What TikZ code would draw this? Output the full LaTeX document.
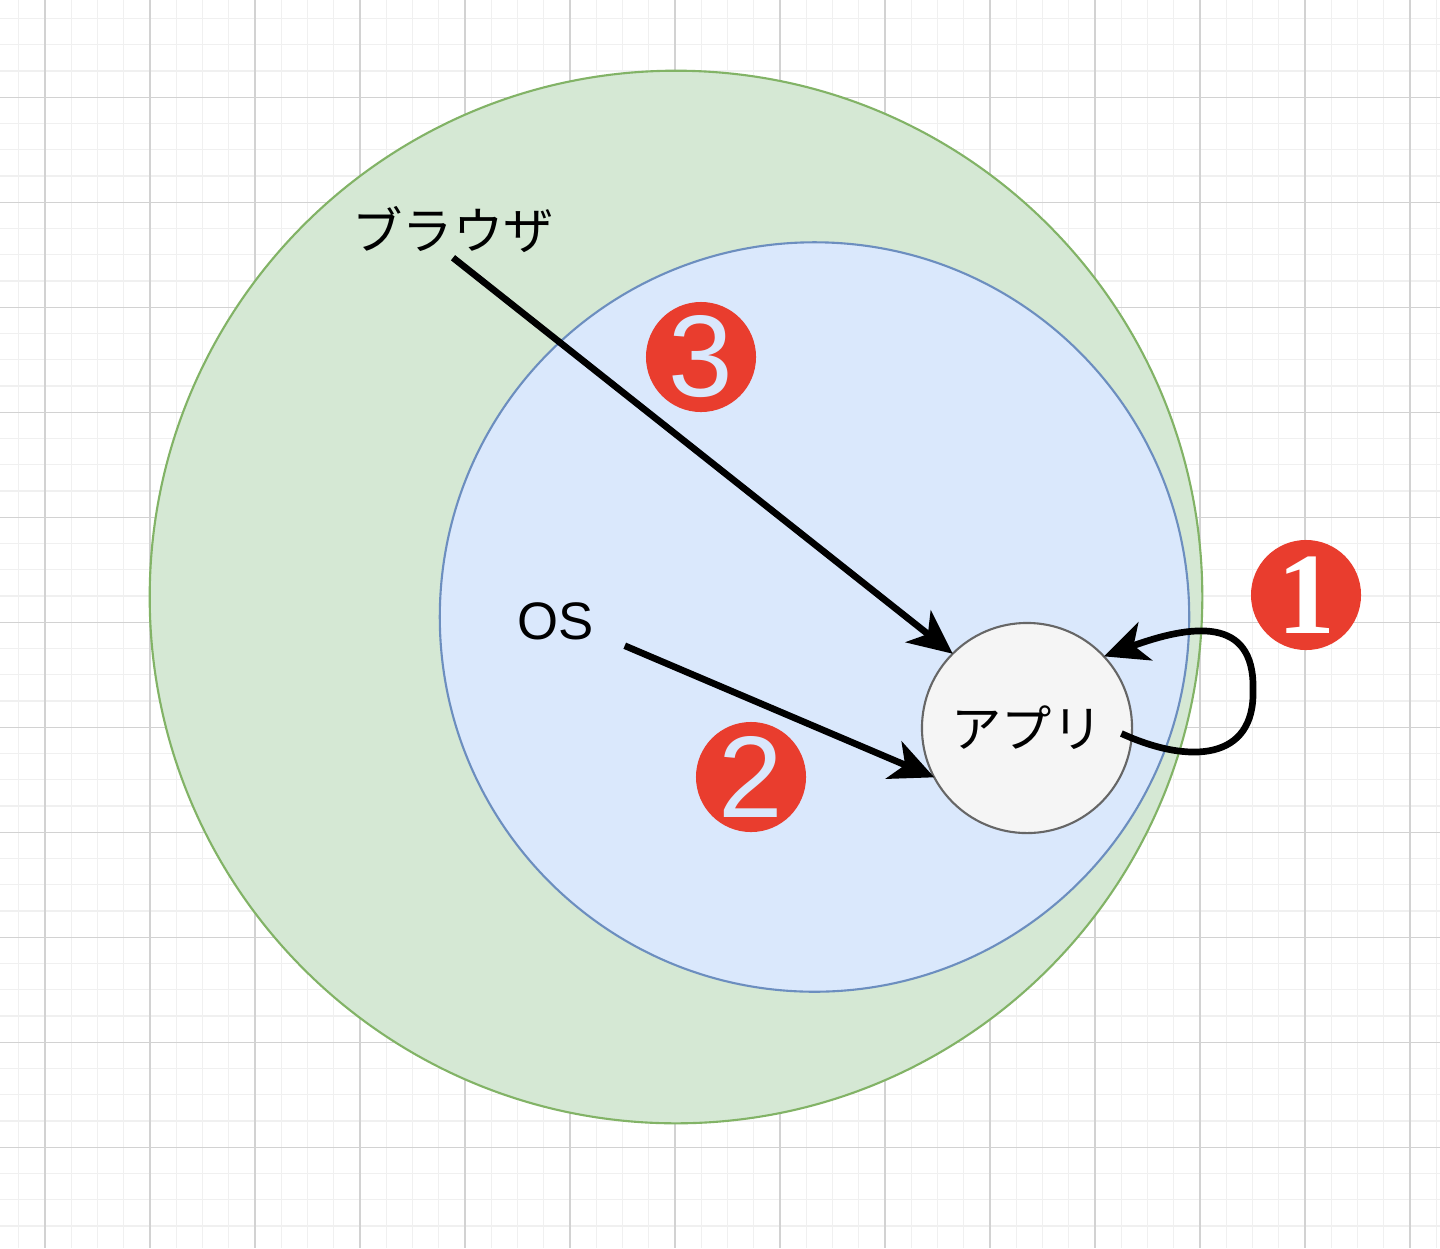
\documentclass[tikz,border=0pt]{standalone}
\usepackage{fontspec}
\setmainfont{Liberation Sans}
\newfontfamily\jpfont{Noto Sans CJK JP}
\newfontfamily\badgeserif{Liberation Serif}
\usetikzlibrary{arrows.meta}
\definecolor{gridminor}{RGB}{240,240,240}
\definecolor{gridmajor}{RGB}{210,210,210}
\definecolor{browserfill}{HTML}{D5E8D4}
\definecolor{browserline}{HTML}{82B366}
\definecolor{osfill}{HTML}{DAE8FC}
\definecolor{osline}{HTML}{6C8EBF}
\definecolor{appfill}{HTML}{F5F5F5}
\definecolor{appline}{HTML}{666666}
\definecolor{badgered}{RGB}{233,61,46}

\tikzset{
    ring/.style={circle, inner sep=0pt, outer sep=0pt, line width=0.6pt},
    tag/.style={inner sep=0pt, font=\fontsize{15}{18}\selectfont},
    badge/.style={circle, fill=badgered, minimum size=1.1cm, inner sep=0pt,
        font=\fontsize{33}{33}\selectfont},
    flow/.style={line width=1.9pt, -{Stealth[length=12.5pt,width=11.5pt,inset=3.5pt]}}
}

\begin{document}
\begin{tikzpicture}[x=0.01cm, y=-0.01cm]
    \useasboundingbox (0,0) rectangle (1440,1248);
    \fill[white] (0,0) rectangle (1440,1248);

    % Background grid
    \foreach \i in {-1,...,54}
        \draw[gridminor, line width=0.3pt] ({45+26.25*\i},0) -- ({45+26.25*\i},1248);
    \foreach \j in {-3,...,44}
        \draw[gridminor, line width=0.3pt] (0,{97.25+26.25*\j}) -- (1440,{97.25+26.25*\j});
    \foreach \i in {0,...,13}
        \draw[gridmajor, line width=0.3pt] ({45+105*\i},0) -- ({45+105*\i},1248);
    \foreach \j in {0,...,10}
        \draw[gridmajor, line width=0.3pt] (0,{97.25+105*\j}) -- (1440,{97.25+105*\j});

    % Nested circles
    \node[ring, draw=browserline, fill=browserfill, minimum size=10.52cm] (browserring) at (676,597) {};
    \node[ring, draw=osline, fill=osfill, minimum size=7.49cm] (osring) at (814.5,617) {};
    \node[ring, draw=appline, fill=appfill, minimum size=2.1cm, font=\jpfont\fontsize{14.3}{17}\selectfont] (app) at (1027,728) {アプリ};

    % Labels
    \node[tag, font=\jpfont\fontsize{14.3}{17}\selectfont, minimum height=0.54cm] (browser) at (453,230) {ブラウザ};
    \node[tag, minimum width=1.36cm, minimum height=0.48cm] (os) at (556,621) {OS};

    % Arrows
    \draw[flow] (browser.south) -- (app.135);
    \draw[flow] (os.south east) -- (app.208);
    \draw[flow] ([xshift=-3pt]app.-3) .. controls (1190,765) and (1255,760) .. (1253,690)
        .. controls (1255,615) and (1190,625) .. (app.43);

    % Numbered badges
    \node[badge, text=white] (one) at (1306,595) {\badgeserif\bfseries 1};
    \node[badge, text=osfill] (two) at (751,777) {2};
    \node[badge, text=osfill] (three) at (701,357) {3};
\end{tikzpicture}
\end{document}
